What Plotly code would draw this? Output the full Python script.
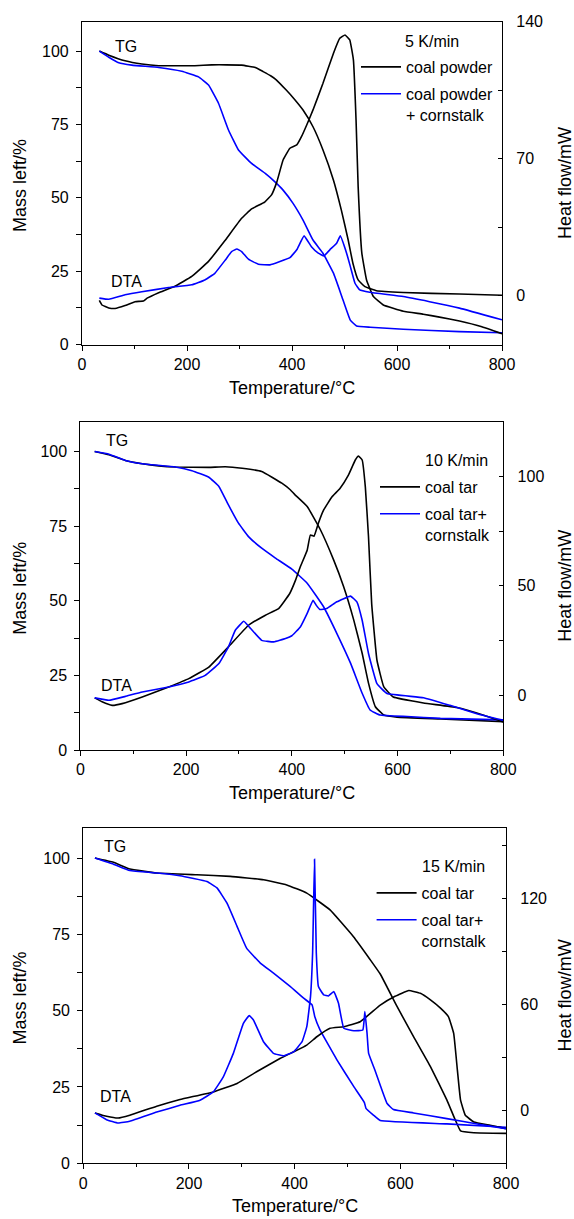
import plotly.graph_objects as go

W, H = 574, 1219

# ---------------- data ----------------
# Panel 1 : 5 K/min, coal powder vs coal powder + cornstalk
p1_tg_T_coal = [33, 51, 82, 114, 146, 177, 215, 247, 275, 304, 330, 345, 360, 370, 389, 405, 421, 440, 459, 479, 494, 507, 516, 526, 539, 561, 612, 719, 800]
p1_tg_coal = [100.0, 98.6, 96.7, 95.6, 95.0, 95.0, 95.0, 95.3, 95.3, 95.2, 94.4, 93.0, 91.5, 90.2, 86.7, 83.5, 79.9, 74.2, 66.3, 56.0, 45.8, 35.6, 27.7, 22.0, 19.7, 18.3, 17.7, 17.2, 16.8]
p1_dta_T_coal = [33, 38, 51, 63, 82, 101, 117, 124, 146, 177, 209, 241, 272, 304, 323, 348, 361, 371, 383, 396, 409, 418, 428, 440, 459, 479, 491, 501, 510, 517, 522, 526, 533, 542, 555, 574, 612, 650, 681, 719, 760, 800]
p1_dta_coal = [-2.5, -4.8, -6.3, -6.6, -5.1, -3.1, -2.8, -1.3, 1.5, 4.8, 9.8, 17.5, 28.0, 39.5, 44.3, 47.8, 51.5, 58.0, 69.3, 75.3, 77.0, 81.2, 87.2, 94.9, 108.5, 123.9, 131.5, 133.2, 130.7, 120.4, 89.8, 55.7, 21.7, 8.0, -0.5, -4.8, -8.0, -9.5, -11.0, -13.0, -15.8, -19.5]
p1_tg_T_mix = [33, 51, 70, 95, 146, 190, 222, 241, 260, 279, 298, 323, 349, 367, 383, 402, 421, 440, 459, 479, 495, 511, 523, 549, 612, 719, 800]
p1_tg_mix = [100.0, 97.9, 96.0, 95.2, 94.4, 93.1, 91.2, 88.4, 82.2, 73.1, 66.3, 61.7, 58.3, 55.5, 52.6, 48.1, 42.4, 35.6, 31.1, 24.3, 16.3, 8.3, 6.3, 5.9, 5.2, 4.4, 4.0]
p1_dta_T_mix = [33, 51, 82, 114, 165, 209, 234, 253, 273, 285, 295, 304, 317, 336, 358, 377, 396, 409, 423, 437, 450, 461, 472, 485, 492, 504, 512, 520, 529, 548, 612, 662, 719, 800]
p1_dta_mix = [-1.3, -1.9, 0.4, 2.0, 4.1, 5.5, 8.0, 11.4, 18.2, 22.5, 23.8, 22.5, 18.6, 16.0, 15.7, 17.4, 19.4, 23.4, 30.5, 25.0, 21.7, 20.3, 23.4, 26.8, 30.5, 21.7, 14.0, 6.3, 2.9, 1.7, -0.5, -3.1, -6.4, -12.4]

# Panel 2 : 10 K/min, coal tar vs coal tar + cornstalk
p2_tg_T_coal = [27, 54, 85, 117, 148, 180, 243, 274, 306, 343, 381, 397, 406, 429, 454, 479, 498, 517, 533, 545, 558, 574, 599, 681, 800]
p2_tg_coal = [100.0, 98.9, 97.0, 95.9, 95.2, 94.8, 94.7, 94.9, 94.4, 93.3, 89.4, 87.2, 85.5, 81.6, 73.8, 63.7, 54.7, 43.6, 32.4, 22.4, 14.5, 11.7, 11.0, 10.4, 9.5]
p2_dta_T_coal = [27, 41, 60, 79, 117, 167, 205, 243, 280, 318, 350, 375, 396, 407, 416, 429, 435, 442, 450, 460, 476, 491, 507, 520, 526, 533, 539, 545, 551, 561, 574, 592, 649, 712, 763, 800]
p2_dta_coal = [-1.2, -3.0, -4.6, -3.8, -0.8, 3.8, 7.6, 12.9, 22.1, 32.0, 36.6, 39.6, 46.5, 52.6, 58.7, 66.3, 73.2, 72.7, 78.5, 84.6, 90.7, 94.5, 100.6, 107.5, 109.3, 107.5, 95.2, 72.4, 41.9, 16.0, 3.8, -0.8, -3.5, -5.6, -9.1, -12.2]
p2_tg_T_mix = [27, 54, 85, 117, 180, 211, 243, 262, 280, 299, 318, 343, 369, 400, 429, 460, 485, 511, 533, 548, 567, 618, 681, 800]
p2_tg_mix = [100.0, 99.1, 97.0, 95.9, 94.8, 93.6, 91.4, 88.3, 82.1, 76.0, 71.5, 67.6, 64.3, 60.6, 55.9, 48.0, 39.1, 29.1, 19.0, 13.4, 11.7, 11.2, 10.6, 10.1]
p2_dta_T_mix = [27, 54, 85, 117, 167, 205, 236, 262, 280, 293, 309, 322, 343, 366, 388, 400, 416, 429, 440, 446, 453, 466, 485, 511, 523, 533, 545, 561, 580, 649, 699, 750, 800]
p2_dta_mix = [-1.2, -2.3, -0.5, 1.5, 3.8, 6.1, 9.1, 14.5, 22.1, 29.7, 33.8, 30.5, 25.1, 24.4, 25.9, 27.2, 31.2, 37.4, 43.4, 41.2, 39.2, 39.6, 42.7, 45.3, 42.7, 34.3, 19.1, 5.3, 0.8, -1.1, -4.6, -8.4, -11.4]

# Panel 3 : 15 K/min, coal tar vs coal tar + cornstalk
p3_tg_T_coal = [22, 57, 88, 139, 215, 278, 341, 385, 423, 467, 511, 543, 562, 594, 625, 657, 688, 704, 714, 739, 800]
p3_tg_coal = [100.0, 98.6, 96.4, 95.1, 94.5, 94.0, 92.9, 91.2, 88.5, 83.0, 74.3, 66.7, 62.0, 51.3, 41.5, 31.7, 20.8, 14.2, 10.6, 10.0, 9.8]
p3_dta_T_coal = [22, 44, 66, 88, 139, 183, 246, 291, 328, 373, 423, 442, 467, 493, 524, 562, 590, 616, 638, 657, 676, 691, 701, 708, 714, 723, 739, 770, 800]
p3_dta_coal = [-1.5, -3.4, -4.4, -2.8, 2.3, 6.1, 10.4, 15.2, 21.8, 29.4, 36.9, 41.6, 46.4, 47.3, 50.1, 59.5, 64.5, 67.8, 66.2, 62.5, 57.8, 53.0, 43.5, 22.7, 5.7, -2.8, -6.6, -8.5, -10.4]
p3_tg_T_mix = [22, 57, 88, 139, 183, 234, 253, 272, 291, 309, 335, 360, 392, 417, 433, 438, 448, 480, 512, 532, 535, 549, 562, 688, 800]
p3_tg_mix = [100.0, 98.0, 95.9, 95.1, 94.2, 92.3, 90.2, 85.2, 77.6, 70.5, 65.6, 62.3, 57.9, 54.1, 51.9, 48.1, 43.7, 33.9, 25.1, 19.9, 18.0, 15.8, 14.0, 12.9, 11.8]
p3_dta_T_mix = [22, 44, 66, 88, 139, 183, 221, 246, 265, 284, 303, 314, 322, 341, 360, 379, 398, 414, 423, 430, 434, 437.6, 441, 445, 455, 464, 474, 483, 493, 512, 529, 533, 537, 540, 552, 562, 575, 587, 625, 688, 751, 800]
p3_dta_mix = [-1.5, -5.3, -7.2, -6.2, -1.0, 2.8, 5.7, 10.4, 18.9, 32.2, 49.2, 53.6, 51.1, 38.8, 32.2, 30.8, 33.1, 38.8, 47.3, 64.3, 89.0, 142.0, 89.0, 70.0, 65.3, 64.7, 67.2, 60.6, 46.4, 45.0, 45.4, 55.8, 43.6, 32.2, 22.7, 14.2, 3.8, 0.4, -1.5, -4.7, -8.0, -10.4]

rate_labels = ["5 K/min", "10 K/min", "15 K/min"]
legend_names = [["coal powder", "coal powder<br>+ cornstalk"],
                ["coal tar", "coal tar+<br>cornstalk"],
                ["coal tar", "coal tar+<br>cornstalk"]]
right_ranges = [[-25, 140], [-25, 125], [-30, 160]]
right_dticks = [70, 50, 60]
left_range = [0, 110]
x_range = [0, 800]
top_ticks = [150, 300, 450, 600, 750]

# ---------------- layout geometry (pixels) ----------------
FONT = "Liberation Sans, Arial, sans-serif"
BLACK = "#000000"
BLUE = "#0000ff"
# plot frames: (left, right, top, bottom) in px
frames = [(82, 502, 21.7, 344.5), (80.4, 503.3, 421.7, 750), (83.3, 506, 827.5, 1163.3)]
# rate label positions (data coords, left anchored)
rate_pos = [(611, 103.2), (648, 97.0), (638, 97.2)]
tg_pos = [(84, 101.6), (69, 103.7), (60, 103.7)]
dta_pos = [(85, 21.6), (68, 21.5), (61, 22.0)]
legend_xy = [(356, 50), (375, 470), (371.6, 876)]

panels = [
    (p1_tg_T_coal, p1_tg_coal, p1_dta_T_coal, p1_dta_coal, p1_tg_T_mix, p1_tg_mix, p1_dta_T_mix, p1_dta_mix),
    (p2_tg_T_coal, p2_tg_coal, p2_dta_T_coal, p2_dta_coal, p2_tg_T_mix, p2_tg_mix, p2_dta_T_mix, p2_dta_mix),
    (p3_tg_T_coal, p3_tg_coal, p3_dta_T_coal, p3_dta_coal, p3_tg_T_mix, p3_tg_mix, p3_dta_T_mix, p3_dta_mix),
]

fig = go.Figure()
layout = dict(
    width=W, height=H,
    margin=dict(l=0, r=0, t=0, b=0, autoexpand=False),
    paper_bgcolor="white", plot_bgcolor="white",
    font=dict(family=FONT, size=16, color="black"),
    annotations=[],
)

for i, (tgTc, tgc, dTc, dc, tgTm, tgm, dTm, dm) in enumerate(panels):
    n = i + 1
    xa = "x" if n == 1 else f"x{n}"
    xt_n = n + 3
    xt = f"x{xt_n}"
    yl_n = 2 * i + 1
    yr_n = 2 * i + 2
    yl = "y" if yl_n == 1 else f"y{yl_n}"
    yr = f"y{yr_n}"
    leg = "legend" if n == 1 else f"legend{n}"
    names = legend_names[i]
    ln = dict(width=1.6, shape="spline", smoothing=0.3)
    fig.add_trace(go.Scatter(x=tgTc, y=tgc, mode="lines", line=dict(color=BLACK, **ln),
                             name=names[0], xaxis=xa, yaxis=yl, legend=leg, showlegend=True,
                             legendgroup=f"g{n}a"))
    fig.add_trace(go.Scatter(x=tgTm, y=tgm, mode="lines", line=dict(color=BLUE, **ln),
                             name=names[1], xaxis=xa, yaxis=yl, legend=leg, showlegend=True,
                             legendgroup=f"g{n}b"))
    fig.add_trace(go.Scatter(x=dTc, y=dc, mode="lines", line=dict(color=BLACK, **ln),
                             name=names[0], xaxis=xa, yaxis=yr, showlegend=False))
    fig.add_trace(go.Scatter(x=dTm, y=dm, mode="lines", line=dict(color=BLUE, **ln),
                             name=names[1], xaxis=xa, yaxis=yr, showlegend=False))

    L, R, T, B = frames[i]
    xdom = [L / W, R / W]
    ydom = [1 - B / H, 1 - T / H]
    xkey = "xaxis" if n == 1 else f"xaxis{n}"
    xtkey = f"xaxis{xt_n}"
    ylkey = "yaxis" if yl_n == 1 else f"yaxis{yl_n}"
    yrkey = f"yaxis{yr_n}"
    axline = dict(showline=True, linecolor=BLACK, linewidth=1.2, showgrid=False, zeroline=False,
                  automargin=False,
                  tickfont=dict(family=FONT, size=16, color="black"), tickcolor=BLACK)
    layout[xkey] = dict(domain=xdom, anchor=yl, range=x_range, dtick=200, tick0=0,
                        ticks="outside", ticklen=5, tickwidth=1.2, mirror=True,
                        minor=dict(dtick=100, ticks="outside", ticklen=3, tickcolor=BLACK),
                        **axline)
    # small marks along the top frame
    layout[xtkey] = dict(overlaying=xa, side="top", anchor=yl, range=x_range,
                         tickvals=top_ticks, showticklabels=False, ticks="outside",
                         ticklen=2, tickwidth=1, tickcolor="#888888", showline=False,
                         showgrid=False, zeroline=False, automargin=False)
    layout[ylkey] = dict(domain=ydom, anchor=xa, range=left_range, dtick=25, tick0=0,
                         ticks="outside", ticklen=5, tickwidth=1.2,
                         minor=dict(dtick=12.5, ticks="outside", ticklen=5, tickcolor=BLACK),
                         ticklabelstandoff=4, **axline)
    layout[yrkey] = dict(overlaying=yl, side="right", anchor=xa, range=right_ranges[i],
                         dtick=right_dticks[i], tick0=0, ticks="inside", ticklen=4, tickwidth=1.2,
                         minor=dict(dtick=right_dticks[i] / 2, ticks="inside", ticklen=4, tickcolor=BLACK),
                         ticklabelstandoff=10, **axline)
    lx, ly = legend_xy[i]
    layout[leg] = dict(x=lx / W, y=1 - ly / H, xanchor="left", yanchor="top",
                       bgcolor="rgba(0,0,0,0)", borderwidth=0, valign="top",
                       font=dict(family=FONT, size=16, color="black"), tracegroupgap=3,
                       itemwidth=40)

    anns = layout["annotations"]
    anns.append(dict(text=rate_labels[i], x=rate_pos[i][0], y=rate_pos[i][1], xref=xa, yref=yl,
                     xanchor="left", yanchor="middle", showarrow=False,
                     font=dict(family=FONT, size=16, color="black")))
    anns.append(dict(text="TG", x=tg_pos[i][0], y=tg_pos[i][1], xref=xa, yref=yl,
                     xanchor="center", yanchor="middle", showarrow=False,
                     font=dict(family=FONT, size=16, color="black")))
    anns.append(dict(text="DTA", x=dta_pos[i][0], y=dta_pos[i][1], xref=xa, yref=yl,
                     xanchor="center", yanchor="middle", showarrow=False,
                     font=dict(family=FONT, size=16, color="black")))
    # axis titles
    anns.append(dict(text="Mass left/%", x=20 / W, y=1 - ((T + B) / 2 + 3) / H, xref="paper", yref="paper",
                     textangle=-90, xanchor="center", yanchor="middle", showarrow=False,
                     font=dict(family=FONT, size=18, color="black")))
    anns.append(dict(text="Heat flow/mW", x=565 / W, y=1 - ((T + B) / 2) / H, xref="paper", yref="paper",
                     textangle=-90, xanchor="center", yanchor="middle", showarrow=False,
                     font=dict(family=FONT, size=18, color="black")))
    anns.append(dict(text="Temperature/°C", x=((L + R) / 2) / W, y=1 - (B + 43) / H, xref="paper", yref="paper",
                     xanchor="center", yanchor="middle", showarrow=False,
                     font=dict(family=FONT, size=18, color="black")))

fig.update_layout(**layout)
fig.write_html("out.html", config={"displayModeBar": False},
               post_script="document.body.style.margin='0';")
